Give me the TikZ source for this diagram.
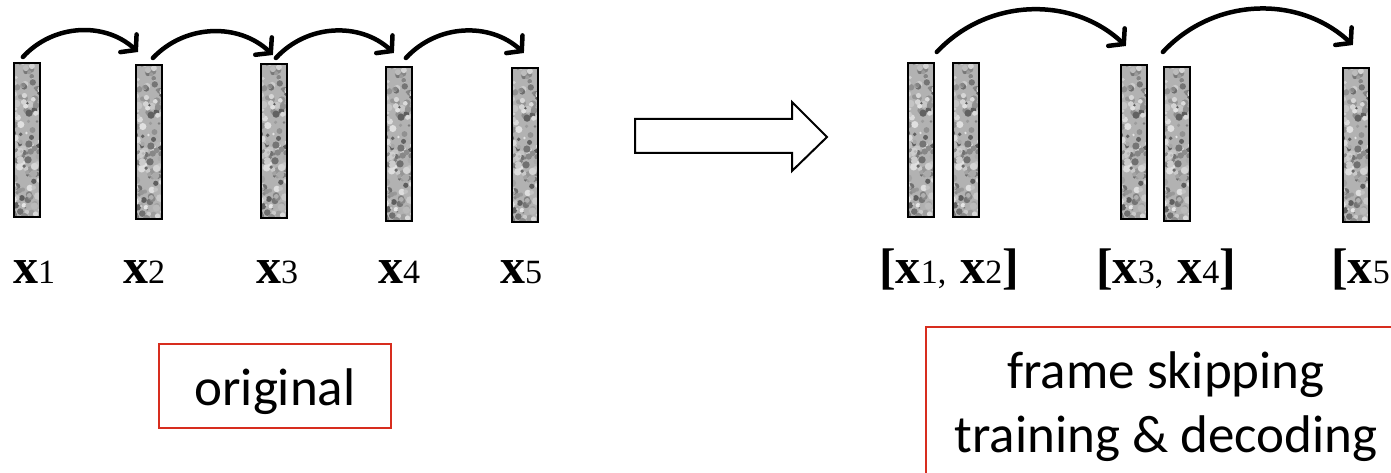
\documentclass[tikz,border=0pt]{standalone}
\usepackage{fontspec}
\setmainfont{Liberation Serif}
\newfontfamily\calfont{Carlito}
\usetikzlibrary{arrows.meta,calc}
\definecolor{boxred}{RGB}{215,45,30}
\newcommand{\bigx}{{\fontsize{50}{50}\selectfont\bfseries x}}
\newcommand{\subn}[1]{{\fontsize{34}{34}\selectfont #1}}
\newcommand{\brk}[1]{{\fontsize{50}{50}\selectfont\bfseries #1}}
\tikzset{
  framebar/.style={draw=black, line width=1.8pt, fill=black!30,
    minimum width=26pt, minimum height=154pt, inner sep=0pt, anchor=north west,
    path picture={
      \pgfmathsetseed{42}
      \foreach \k in {1,...,170}{
        \pgfmathsetmacro\px{rnd*28-14}
        \pgfmathsetmacro\py{rnd*158-79}
        \pgfmathsetmacro\sh{int(10+rnd*55)}
        \pgfmathsetmacro\rr{1.2+rnd*2.6}
        \fill[black!\sh] (\px pt,\py pt) circle[radius=\rr pt];
      }
    }},
  hop/.style={line width=4.5pt, line cap=round, -{Straight Barb[length=10pt,width=24pt,line cap=round]}, bend left=45},
  lab/.style={anchor=base west, inner sep=0pt},
  redbox/.style={draw=boxred, line width=1.5pt, anchor=north west, inner sep=0pt},
  boxtext/.style={anchor=base, inner sep=0pt, font=\calfont\fontsize{53}{53}\selectfont},
}
\begin{document}
\begin{tikzpicture}[x=1pt,y=-1pt]
\clip (0,0) rectangle (1391,473);
\fill[white] (0,0) rectangle (1391,473);
% left bars
\node[framebar] (b1) at (13,62) {};
\node[framebar] (b2) at (135,64) {};
\node[framebar] (b3) at (260,63) {};
\node[framebar] (b4) at (385,66) {};
\node[framebar] (b5) at (511,67) {};
% right bars
\node[framebar] (r1) at (907,62) {};
\node[framebar] (r2) at (952,62) {};
\node[framebar] (r3) at (1120,64) {};
\node[framebar] (r4) at (1163,66) {};
\node[framebar] (r5) at (1342,67) {};
% hops
\draw[hop] ([xshift=-4pt,yshift=5pt]b1.north) to ([xshift=3pt,yshift=12pt]b2.north west);
\draw[hop] ([xshift=4pt,yshift=6pt]b2.north) to ([xshift=-1pt,yshift=8pt]b3.north);
\draw[hop] ([xshift=2pt,yshift=5pt]b3.north) to ([xshift=-5pt,yshift=13pt]b4.north);
\draw[hop] ([xshift=7pt,yshift=8pt]b4.north) to ([xshift=-1pt,yshift=14pt]b5.north);
\draw[hop] ([xshift=2pt,yshift=10pt]r1.north east) to ([xshift=-8pt,yshift=18pt]r3.north);
\draw[hop] ([xshift=-14pt,yshift=14pt]r4.north) to ([xshift=-3pt,yshift=22pt]r5.north);
% block arrow
\draw[line width=2pt, line join=miter, fill=white]
  (635,119) -- (792,119) -- (792,102) -- (827,137) -- (792,171) -- (792,153) -- (635,153) -- cycle;
% left labels
\node[lab] (l1) at (13,283) {\bigx\subn{1}};
\node[lab] (l2) at (123,283) {\bigx\subn{2}};
\node[lab] (l3) at (256,283) {\bigx\subn{3}};
\node[lab] (l4) at (378,283) {\bigx\subn{4}};
\node[lab] (l5) at (500,283) {\bigx\subn{5}};
% right labels
\node[lab] (g1) at (879,283) {\brk{[}\bigx\subn{1,}\hspace{14pt}\bigx\subn{2}\brk{]}};
\node[lab] (g2) at (1096,283) {\brk{[}\bigx\subn{3,}\hspace{14pt}\bigx\subn{4}\brk{]}};
\node[lab] (g3) at (1331,283) {\brk{[}\bigx\subn{5}};
% boxes
\node[redbox, minimum width=232pt, minimum height=84pt] (origbox) at (158,343) {};
\node[boxtext] (origtext) at (275,405) {original};
\node[redbox, minimum width=480pt, minimum height=170pt] (fsbox) at (925,326) {};
\node[boxtext] (fstext1) at (1166,388) {frame skipping};
\node[boxtext] (fstext2) at (1166,452) {training \& decoding};
\end{tikzpicture}
\end{document}
